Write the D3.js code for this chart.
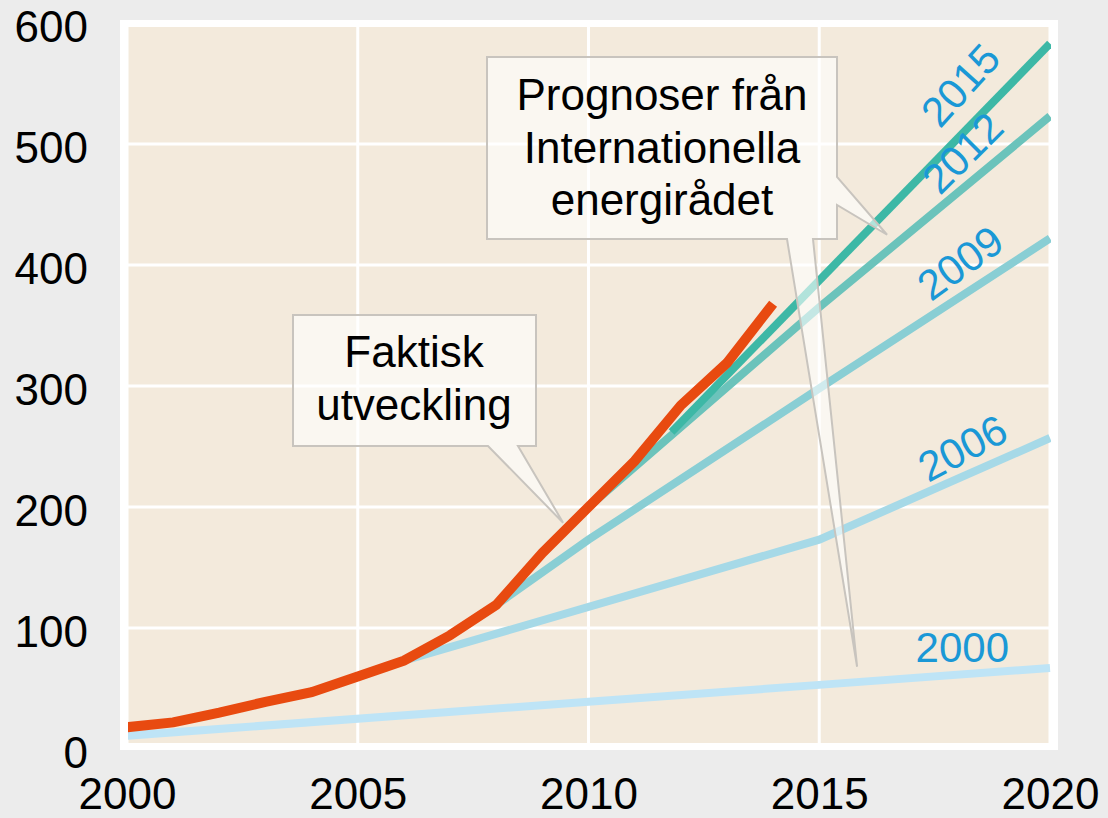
<!DOCTYPE html>
<html>
<head>
<meta charset="utf-8">
<script src="https://cdn.jsdelivr.net/npm/d3@7"></script>
<style>
  body { margin: 0; background: #ececec; }
  svg { display: block; font-family: Arial, "Liberation Sans", sans-serif; }
</style>
</head>
<body>
<div id="chart"></div>
<script>
// actual development
var actualYears = [2000, 2001, 2002, 2003, 2004, 2005, 2006, 2007, 2008, 2009, 2010, 2011, 2012, 2013, 2014];
var actualValues = [18, 22, 30, 39, 47, 60, 73, 94, 119, 162, 200, 238, 284, 319, 368];

// IEA forecasts, by publication year
var forecastNames = ["2000", "2006", "2009", "2012", "2015"];
var forecastYears = [
  [2000, 2010, 2015, 2020],
  [2005, 2006, 2015, 2020],
  [2008, 2010, 2015, 2020],
  [2009, 2010, 2015, 2020],
  [2011.8, 2020]
];
var forecastValues = [
  [11, 39, 53, 67],
  [60, 73, 173, 257],
  [119, 173, 298, 422],
  [162, 200, 365, 523],
  [262, 583]
];
var forecastColors = ["#bee4f6", "#a6d9e7", "#89ced4", "#6bc3bb", "#3db8a6"];

var yTicks = [0, 100, 200, 300, 400, 500, 600];
var xTicks = [2000, 2005, 2010, 2015, 2020];

function makeChart() {
  var width = 1108, height = 818;

  var svg = d3.select("#chart").append("svg")
    .attr("width", width)
    .attr("height", height);

  var x = d3.scaleLinear().domain([2000, 2020]).range([127, 1050]);
  var y = d3.scaleLinear().domain([0, 600]).range([749, 23]);

  // frame: white border round the beige plot area
  var fx0 = 128, fx1 = 1051, fy0 = 27, fy1 = 743;
  svg.append("rect")
    .attr("x", fx0 - 8).attr("y", fy0 - 7)
    .attr("width", fx1 - fx0 + 15).attr("height", fy1 - fy0 + 14)
    .attr("fill", "#ffffff");
  svg.append("rect")
    .attr("x", fx0).attr("y", fy0)
    .attr("width", fx1 - fx0).attr("height", fy1 - fy0)
    .attr("fill", "#f3eadc");

  svg.append("clipPath").attr("id", "plotClip")
    .append("rect")
    .attr("x", fx0).attr("y", fy0)
    .attr("width", fx1 - fx0).attr("height", fy1 - fy0);

  var plot = svg.append("g").attr("clip-path", "url(#plotClip)");

  // grid
  plot.append("g").selectAll("line")
    .data(yTicks)
    .enter().append("line")
      .attr("x1", fx0).attr("x2", fx1)
      .attr("y1", function(d) { return y(d); })
      .attr("y2", function(d) { return y(d); })
      .attr("stroke", "#ffffff").attr("stroke-width", 3);
  plot.append("g").selectAll("line")
    .data(xTicks)
    .enter().append("line")
      .attr("y1", fy0).attr("y2", fy1)
      .attr("x1", function(d) { return x(d); })
      .attr("x2", function(d) { return x(d); })
      .attr("stroke", "#ffffff").attr("stroke-width", 3);

  var line = d3.line()
    .x(function(d) { return x(d[0]); })
    .y(function(d) { return y(d[1]); });

  plot.append("g").selectAll("path")
    .data(forecastNames)
    .enter().append("path")
      .attr("d", function(d, i) {
        return line(d3.zip(forecastYears[i], forecastValues[i]));
      })
      .attr("fill", "none")
      .attr("stroke", function(d, i) { return forecastColors[i]; })
      .attr("stroke-width", 8);

  plot.append("path")
    .attr("d", line(d3.zip(actualYears, actualValues)))
    .attr("fill", "none")
    .attr("stroke", "#e84a10")
    .attr("stroke-width", 10);

  // forecast labels
  var labelPos = [
    { year: 2018.1, value: 84, angle: 0 },
    { year: 2018.1, value: 249, angle: -28 },
    { year: 2018.05, value: 402, angle: -36 },
    { year: 2018.1, value: 493, angle: -45 },
    { year: 2018.05, value: 549, angle: -48 }
  ];
  svg.append("g").selectAll("text")
    .data(forecastNames)
    .enter().append("text")
      .attr("transform", function(d, i) {
        var p = labelPos[i];
        return "translate(" + x(p.year) + "," + y(p.value) + ") rotate(" + p.angle + ")";
      })
      .attr("text-anchor", "middle")
      .attr("dy", "0.36em")
      .attr("font-size", 42)
      .attr("fill", "#1a98d6")
      .text(function(d) { return d; });

  // callout boxes
  function callout(path, lines, cx, y0) {
    svg.append("path")
      .attr("d", path)
      .attr("fill", "#ffffff").attr("fill-opacity", 0.6)
      .attr("stroke", "#c8c4be").attr("stroke-width", 2);
    svg.append("g").selectAll("text")
      .data(lines)
      .enter().append("text")
        .attr("x", cx)
        .attr("y", function(d, i) { return y0 + i * 52.5; })
        .attr("text-anchor", "middle")
        .attr("font-size", 44)
        .attr("fill", "#000000")
        .text(function(d) { return d; });
  }

  var tipA = [x(2009.45), y(187)];
  callout("M293,315H536V446H518L" + tipA[0] + "," + tipA[1] + "L488,446H293Z",
    ["Faktisk", "utveckling"], 414, 367);

  var tipB = [x(2016.47), y(425)];
  var tipC = [x(2015.82), y(68)];
  callout("M487,57H837V177L" + tipB[0] + "," + tipB[1] + "L837,205V239H813L" +
    tipC[0] + "," + tipC[1] + "L787,239H487Z",
    ["Prognoser från", "Internationella", "energirådet"], 662, 110);

  // axes
  var yAxis = svg.append("g")
    .attr("transform", "translate(88,0)")
    .call(d3.axisLeft(y).tickValues(yTicks).tickSize(0).tickPadding(0));
  var xAxis = svg.append("g")
    .attr("transform", "translate(0,776)")
    .call(d3.axisBottom(x).tickValues(xTicks).tickSize(0).tickPadding(0).tickFormat(d3.format("d")));

  [yAxis, xAxis].forEach(function(a) {
    a.select(".domain").remove();
    a.selectAll("text")
      .attr("font-size", 44)
      .attr("font-family", "Arial, 'Liberation Sans', sans-serif")
      .attr("fill", "#000000");
  });
  yAxis.selectAll("text").attr("dy", "0.43em");
  xAxis.selectAll("text").attr("dy", "0.75em");
}

makeChart();
</script>
</body>
</html>
